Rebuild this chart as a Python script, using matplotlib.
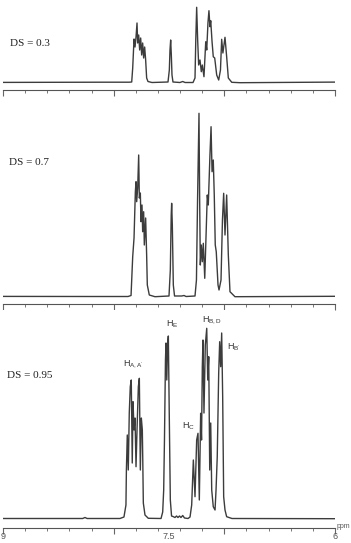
import numpy as np
import matplotlib
matplotlib.use('Agg')
import matplotlib.pyplot as plt

plt.rcParams['mathtext.fontset'] = 'custom'
plt.rcParams['mathtext.rm'] = 'Liberation Sans'
plt.rcParams['mathtext.it'] = 'Liberation Sans:italic'

# chemical shift (ppm) and intensity (a.u.)
ppm_03 = [9.0, 8.1, 7.86, 7.837, 7.828, 7.816, 7.807, 7.798, 7.789, 7.783, 7.774, 7.765,
          7.756, 7.747, 7.738, 7.729, 7.720, 7.711, 7.702, 7.690, 7.654,
          7.509, 7.497, 7.491, 7.485, 7.479, 7.473, 7.464,
          7.401, 7.376, 7.355,
          7.283, 7.265, 7.258, 7.250, 7.241, 7.232, 7.220, 7.208, 7.199, 7.184, 7.168,
          7.159, 7.148, 7.139, 7.130, 7.123, 7.111, 7.100, 7.087, 7.069, 7.051, 7.035,
          7.024, 7.013, 6.994, 6.979, 6.964, 6.933, 6.858, 6.0]
int_03 = [0.3, 0.5, 0.5, 0.7, 14.7, 43.7, 35.7, 45.7, 59.7, 39.7, 47.7, 32.7,
          44.7, 27.7, 39.7, 24.7, 35.7, 22.7, 4.7, 1.2, 0.2,
          0.7, 12.7, 32.7, 42.7, 27.7, 7.7, 0.7,
          0.2, 1.2, 0.2,
          0.2, 4.7, 42.7, 75.4, 42.7, 17.7, 22.7, 11.0, 17.7, 6.0, 41.0,
          32.7, 59.7, 72.0, 56.0, 62.0, 41.0, 26.0, 24.7, 7.7, 2.7, 12.7,
          43.4, 29.7, 45.4, 26.0, 4.7, 0.4, 0.0, 0.6]

ppm_07 = [9.0, 8.2, 7.870, 7.843, 7.828, 7.816, 7.804, 7.798, 7.792, 7.783, 7.774, 7.768,
          7.759, 7.753, 7.744, 7.738, 7.729, 7.723, 7.711, 7.702, 7.696, 7.678, 7.627,
          7.500, 7.488, 7.480, 7.476, 7.470, 7.461, 7.450,
          7.385, 7.364, 7.346,
          7.265, 7.252, 7.242, 7.229, 7.223, 7.217, 7.208, 7.199, 7.190, 7.177, 7.166,
          7.154, 7.145, 7.130, 7.120, 7.111, 7.100, 7.091, 7.082, 7.073, 7.057, 7.048,
          7.030, 7.017, 7.006, 6.994, 6.979, 6.964, 6.949, 6.904, 6.0]
int_07 = [0.3, 0.2, 0.2, 1.2, 40.0, 58.7, 105.0, 115.0, 95.0, 108.7, 141.7, 98.7,
          103.7, 75.0, 91.7, 65.0, 85.0, 51.7, 78.7, 41.7, 11.7, 1.7, 0.0,
          0.7, 26.7, 81.7, 93.4, 71.7, 11.7, 0.7,
          0.7, 1.2, 0.2,
          0.7, 16.7, 96.7, 183.4, 96.7, 31.7, 51.7, 35.0, 53.4, 18.4, 58.4,
          101.7, 91.7, 141.7, 170.0, 125.0, 136.7, 101.7, 51.7, 45.0, 11.7, 6.7,
          16.7, 76.7, 103.4, 61.7, 101.7, 41.7, 5.0, 0.0, 0.4]

ppm_095 = [9.0, 8.28, 8.259, 8.24, 7.943, 7.907, 7.889, 7.885, 7.877, 7.868, 7.859, 7.850,
           7.841, 7.832, 7.825, 7.816, 7.807, 7.798, 7.789, 7.777, 7.768, 7.759, 7.750,
           7.741, 7.737, 7.732, 7.717, 7.687,
           7.572, 7.557, 7.548, 7.541, 7.532, 7.527, 7.520, 7.513, 7.506, 7.497, 7.488, 7.477,
           7.464, 7.446, 7.432, 7.419, 7.405, 7.392, 7.376, 7.360, 7.328,
           7.310, 7.295, 7.280, 7.265, 7.250, 7.238, 7.226, 7.214, 7.206, 7.199, 7.193,
           7.184, 7.172, 7.159, 7.150, 7.141, 7.132, 7.123, 7.114, 7.100, 7.084, 7.075,
           7.064, 7.051, 7.042, 7.033, 7.024, 7.015, 7.006, 6.994, 6.979, 6.931, 6.0]
int_095 = [0.5, 0.5, 1.5, 0.5, 0.5, 2.0, 14.0, 49.0, 84.0, 49.0, 106.0, 132.3,
           139.0, 56.0, 117.3, 89.0, 101.0, 52.3, 89.0, 132.3, 140.7, 49.0, 101.0,
           89.0, 59.0, 16.0, 4.0, 0.7,
           0.5, 7.0, 29.0, 79.0, 159.0, 176.0, 139.0, 174.0, 183.0, 99.0, 19.0, 3.0,
           2.5, 1.5, 3.0, 1.5, 3.0, 1.5, 3.5, 1.0, 0.5,
           2.0, 14.0, 59.0, 22.3, 79.0, 85.7, 19.0, 105.7, 79.0, 152.3, 179.0,
           106.0, 174.0, 190.7, 139.0, 162.3, 49.0, 96.0, 29.0, 12.3, 9.0, 29.0,
           62.3, 146.0, 177.3, 152.3, 186.0, 122.3, 22.3, 9.0, 2.3, 0.5, 0.3]

ds_labels = ['DS = 0.3', 'DS = 0.7', 'DS = 0.95']
peak_labels = [r'H$_{\mathrm{A,A^{\prime}}}$', r'H$_{\mathrm{E}}$', r'H$_{\mathrm{B,D}}$',
               r'H$_{\mathrm{B^{\prime}}}$', r'H$_{\mathrm{C}}$']
peak_label_ppm = [7.918, 7.527, 7.202, 6.976, 7.383]
peak_label_int = [155, 195, 199, 172, 93]


def main():
    W, H = 351, 543
    fig = plt.figure(figsize=(W / 100, H / 100), dpi=100)

    # (axis line y, top y, baseline y) in pixels from the top
    panels = [(90, 0, 82.7), (304, 100, 296.7), (528, 310, 519)]
    spectra = [(ppm_03, int_03), (ppm_07, int_07), (ppm_095, int_095)]
    ds_pos = [(8.937, 39.7), (8.943, 134), (8.967, 144)]

    axes = []
    for (ybot, ytop, ybase), (x, y), lab, pos in zip(panels, spectra, ds_labels, ds_pos):
        ax = fig.add_axes([3 / W, 1 - ybot / H, 332 / W, (ybot - ytop) / H])
        ax.plot(x, y, color='#3c3c3c', lw=1.0, solid_joinstyle='round')
        ax.set_xlim(9, 6)
        ax.set_ylim(-(ybot - ybase), ybase - ytop)
        for s in ['top', 'left', 'right']:
            ax.spines[s].set_visible(False)
        ax.spines['bottom'].set_color('#555555')
        ax.spines['bottom'].set_linewidth(0.8)
        ax.set_yticks([])
        ax.set_xticks([9, 8, 7, 6])
        ax.set_xticks(np.arange(6, 9.01, 0.2), minor=True)
        ax.set_xticklabels([])
        ax.tick_params(axis='x', which='major', length=4, width=0.8, color='#666666')
        ax.tick_params(axis='x', which='minor', length=2.5, width=0.7, color='#777777')
        ax.text(pos[0], pos[1], lab, family='Liberation Serif', fontsize=8,
                va='center', ha='left', color='#222222')
        axes.append(ax)

    ax3 = axes[2]
    for lab, px, py in zip(peak_labels, peak_label_ppm, peak_label_int):
        ax3.text(px, py, lab, family='Liberation Sans', fontsize=6.5, color='#333333',
                 va='center', ha='left', clip_on=False)

    for v, t in zip([9, 7.5, 6], ['9', '7.5', '6']):
        ax3.text(v, -17.5, t, family='Liberation Sans', fontsize=6.5, color='#555555',
                 ha='center', va='center', clip_on=False)
    fig.text(337 / W, 1 - 526 / H, 'ppm', family='Liberation Sans', fontsize=5,
             color='#555555', ha='left', va='center')

    fig.savefig('out.png', dpi=100)
    plt.close(fig)


if __name__ == '__main__':
    main()
